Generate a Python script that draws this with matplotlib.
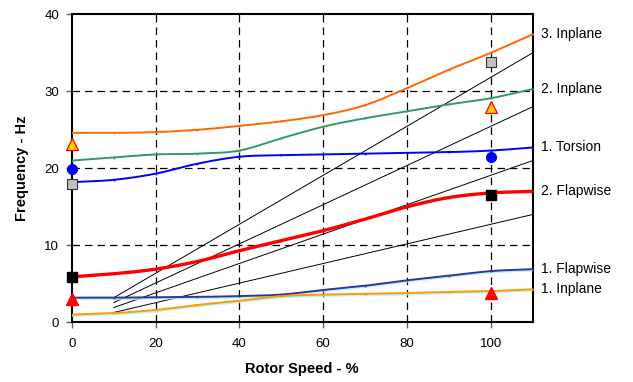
import matplotlib
matplotlib.use("Agg")
import matplotlib.pyplot as plt
import matplotlib.patheffects as pe
import numpy as np

plt.rcParams['font.family'] = ['Liberation Sans', 'DejaVu Sans']

# Rotor speed grid for the computed eigenfrequency curves (%)
speed = [0, 10, 20, 30, 40, 50, 60, 70, 80, 90, 100, 110]

inplane_3 = [24.6, 24.6, 24.7, 25.0, 25.5, 26.1, 26.9, 28.2, 30.4, 32.8, 35.0, 37.4]
inplane_2 = [21.0, 21.4, 21.8, 21.9, 22.3, 23.9, 25.4, 26.5, 27.4, 28.3, 29.1, 30.3]
torsion_1 = [18.2, 18.5, 19.3, 20.6, 21.5, 21.7, 21.8, 21.9, 22.0, 22.1, 22.3, 22.7]
flapwise_2 = [5.9, 6.3, 6.9, 7.9, 9.3, 10.6, 11.9, 13.4, 15.0, 16.2, 16.8, 17.0]
flapwise_1 = [3.2, 3.2, 3.25, 3.3, 3.4, 3.6, 4.2, 4.75, 5.45, 6.05, 6.65, 6.9]
inplane_1 = [1.0, 1.2, 1.6, 2.25, 2.8, 3.4, 3.6, 3.7, 3.8, 3.95, 4.05, 4.3]

mode_labels = ["3. Inplane", "2. Inplane", "1. Torsion",
               "2. Flapwise", "1. Flapwise", "1. Inplane"]

# Rotor harmonic excitation lines (endpoints at 10 % and 110 %)
harm_x = [10, 110]
harm_start = [1.27, 1.91, 2.55, 3.18]
harm_end = [14.0, 21.0, 28.0, 35.0]

# Measured frequencies at standstill (0 %) and nominal speed (100 %)
meas_speed = [0, 100]
meas_square_grey = [17.9, 33.8]
meas_tri_yellow = [23.2, 28.0]
meas_circle_blue = [19.9, 21.5]
meas_square_black = [5.9, 16.5]
meas_tri_red = [3.0, 3.8]


def smooth_path(xs, ys, steps=16):
    """Catmull-Rom rendering of a polyline (passes through every point)."""
    xs = np.asarray(xs, float)
    ys = np.asarray(ys, float)
    px = np.concatenate([[2 * xs[0] - xs[1]], xs, [2 * xs[-1] - xs[-2]]])
    py = np.concatenate([[2 * ys[0] - ys[1]], ys, [2 * ys[-1] - ys[-2]]])
    outx, outy = [], []
    t = np.linspace(0, 1, steps, endpoint=False)
    for i in range(1, len(px) - 2):
        for arr, out in ((px, outx), (py, outy)):
            p0, p1, p2, p3 = arr[i - 1], arr[i], arr[i + 1], arr[i + 2]
            out.extend(0.5 * ((2 * p1) + (-p0 + p2) * t
                              + (2 * p0 - 5 * p1 + 4 * p2 - p3) * t ** 2
                              + (-p0 + 3 * p1 - 3 * p2 + p3) * t ** 3))
    outx.append(xs[-1])
    outy.append(ys[-1])
    return outx, outy


fig = plt.figure(figsize=(6.33, 3.82), dpi=100)
ax = fig.add_axes([0.1133, 0.1563, 0.7283, 0.8063])

ax.set_xlim(0, 110)
ax.set_ylim(0, 40)

# Grid
for gx in [20, 40, 60, 80, 100]:
    ax.axvline(gx, color='black', lw=0.9, ls=(0, (6, 4)), zorder=1)
for gy in [10, 20, 30]:
    ax.axhline(gy, color='black', lw=0.9, ls=(0, (6, 4)), zorder=1)

# Harmonic lines
for s, e in zip(harm_start, harm_end):
    ax.plot(harm_x, [s, e], color='black', lw=0.7, zorder=2)

shadow = [pe.SimpleLineShadow(offset=(0, -1), shadow_color='#aaf0f0', alpha=0.8), pe.Normal()]

curves = [
    (inplane_3, '#ff6600', 1.4, None),
    (inplane_2, '#339966', 1.4, None),
    (torsion_1, '#0000ff', 1.4, None),
    (flapwise_2, '#ff0000', 2.4, None),
    (flapwise_1, '#333399', 1.4, shadow),
    (inplane_1, '#ff9900', 1.4, shadow),
]
for vals, col, lw, eff in curves:
    sx, sy = smooth_path(speed, vals)
    ln, = ax.plot(sx, sy, color=col, lw=lw, zorder=3, solid_capstyle='butt')
    if eff:
        ln.set_path_effects(eff)
    ax.plot(speed, vals, ls='none', marker='.', ms=1.5, color=col, alpha=0.6, zorder=3)

# Measured points
ax.plot(meas_speed, meas_square_grey, ls='none', marker='s', ms=6.5,
        mfc='#c0c0c0', mec='#333333', mew=0.8, zorder=5, clip_on=False)
ax.plot(meas_speed, meas_tri_yellow, ls='none', marker='^', ms=8,
        mfc='#ffcc00', mec='#ff0000', mew=0.9, zorder=5, clip_on=False)
ax.plot(meas_speed, meas_circle_blue, ls='none', marker='o', ms=7,
        mfc='#0000ff', mec='#0000ff', zorder=5, clip_on=False)
ax.plot(meas_speed, meas_square_black, ls='none', marker='s', ms=6.5,
        mfc='black', mec='black', zorder=5, clip_on=False)
ax.plot(meas_speed, meas_tri_red, ls='none', marker='^', ms=8,
        mfc='#ff0000', mec='#ff0000', zorder=5, clip_on=False)

# Mode labels at the right end of each curve
label_y = [inplane_3[-1], inplane_2[-1], torsion_1[-1],
           flapwise_2[-1], flapwise_1[-1], inplane_1[-1]]
for txt, yv in zip(mode_labels, label_y):
    ax.annotate(txt, xy=(1.0, yv), xycoords=('axes fraction', 'data'),
                xytext=(6, 0), textcoords='offset points',
                va='center', ha='left', fontsize=10)

for sp in ax.spines.values():
    sp.set_linewidth(1.5)
    sp.set_color('black')

ax.set_xticks([0, 20, 40, 60, 80, 100])
ax.set_yticks([0, 10, 20, 30, 40])
ax.tick_params(direction='out', length=4, width=1, color='#606060', labelsize=9.5)
ax.tick_params(axis='x', pad=7)
ax.tick_params(axis='y', pad=5)

ax.set_xlabel('Rotor Speed - %', fontsize=10.5, fontweight='bold', labelpad=9)
ax.set_ylabel('Frequency - Hz', fontsize=10.5, fontweight='bold', labelpad=11)

fig.savefig('out.png', dpi=100)
